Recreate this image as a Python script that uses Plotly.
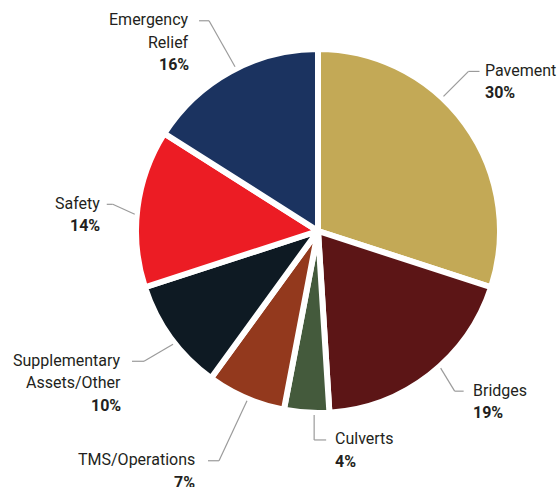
import math
import plotly.graph_objects as go

# Funding share by program area (percent)
categories = ["Pavement", "Bridges", "Culverts", "TMS/Operations",
              "Supplementary Assets/Other", "Safety", "Emergency Relief"]
shares = [30, 19, 4, 7, 10, 14, 16]
label_lines = [["Pavement"], ["Bridges"], ["Culverts"], ["TMS/Operations"],
               ["Supplementary", "Assets/Other"], ["Safety"], ["Emergency", "Relief"]]
colors = ["#C3A956", "#5C1516", "#445A3C", "#93391D", "#0E1A23", "#EC1C24", "#1B3360"]

W, H = 560, 487
CX, CY = 318, 231          # pie centre in pixels (from top-left)
R = 182                    # pie radius in pixels
GAP = 6                    # white separator width

# leader-line styling per label: angle nudge (deg), elbow offset (px),
# horizontal tail length and gap before the text (px)
leader_nudge = [-11, -4, -2.4, -0.7, -2, -2, 2]
leader_elbow = [(25, -25), (14, 23), (0, 25), (-28, 60), (-29, 17), (-22, -10), (-26, -46)]
leader_tail = [11, 9, 12, 11, 12, 6, 10]
text_gap = [4, 7, 7, 11, 9, 5, 8]
LINE_H = 22.5

fig = go.Figure(go.Pie(
    labels=categories,
    values=shares,
    sort=False,
    direction="clockwise",
    rotation=0,
    textinfo="none",
    hoverinfo="label+percent",
    marker=dict(colors=colors, line=dict(color="white", width=GAP)),
    domain=dict(x=[(CX - R) / W, (CX + R) / W],
                y=[(H - CY - R) / H, (H - CY + R) / H]),
    showlegend=False,
))


def px(x):
    return x / W


def py(y):
    return 1 - y / H


shapes = []
annotations = []
total = sum(shares)
cum = 0
for i, v in enumerate(shares):
    mid = (cum + v / 2) / total * 360
    cum += v
    ang = math.radians(mid + leader_nudge[i])
    r0 = R - GAP / 2 + 5
    sx = CX + r0 * math.sin(ang)
    sy = CY - r0 * math.cos(ang)
    ex = sx + leader_elbow[i][0]
    ey = sy + leader_elbow[i][1]
    side = 1 if ex >= CX - 10 else -1
    tx = ex + side * leader_tail[i]
    for (x0, y0, x1, y1) in [(sx, sy, ex, ey), (ex, ey, tx, ey)]:
        shapes.append(dict(type="line", xref="paper", yref="paper",
                           x0=px(x0), y0=py(y0), x1=px(x1), y1=py(y1),
                           line=dict(color="#9B9B9B", width=1.2)))
    text_x = tx + side * text_gap[i]
    rows = [(t, False) for t in label_lines[i]] + [(f"{v}%", True)]
    for k, (t, bold) in enumerate(rows):
        annotations.append(dict(
            xref="paper", yref="paper",
            x=px(text_x), y=py(ey - 1 + k * LINE_H),
            text=f"<b>{t}</b>" if bold else t,
            showarrow=False,
            xanchor="left" if side > 0 else "right",
            yanchor="middle",
            align="left" if side > 0 else "right",
            font=dict(family="Roboto", size=16, color="#231F20"),
        ))

fig.update_layout(
    width=W, height=H,
    margin=dict(l=0, r=0, t=0, b=0),
    paper_bgcolor="white",
    plot_bgcolor="white",
    shapes=shapes,
    annotations=annotations,
)

fig.write_html("out.html")
